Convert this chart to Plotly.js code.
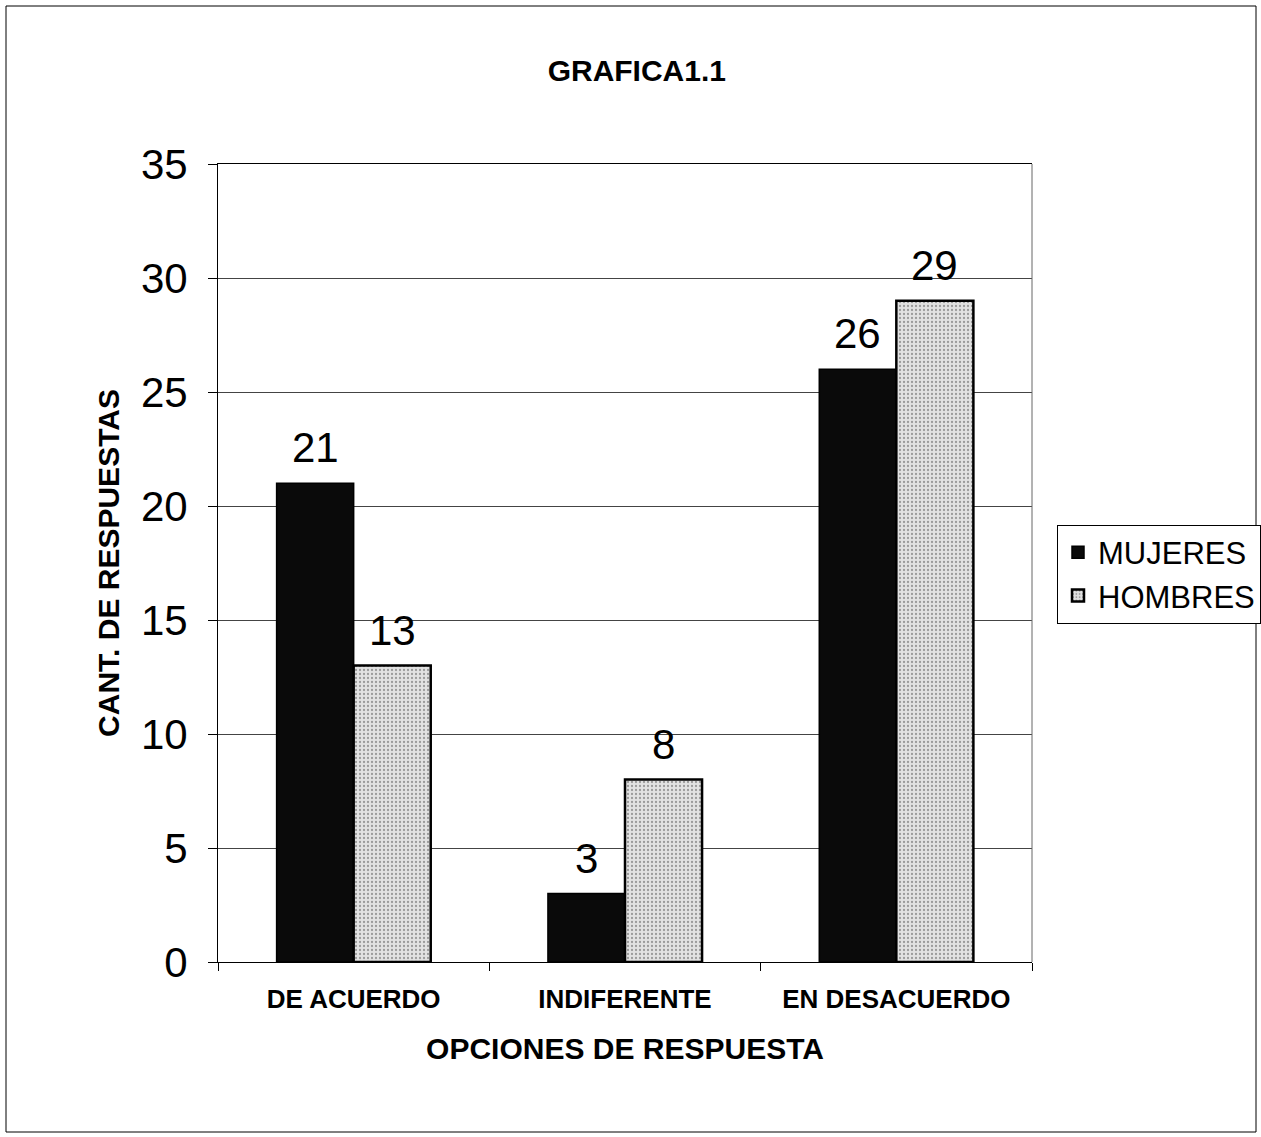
<!DOCTYPE html>
<html>
<head>
<meta charset="utf-8">
<script src="https://cdn.plot.ly/plotly-3.0.1.min.js"></script>
<style>body{margin:0;padding:0;background:#fff;} #chart{width:1261px;height:1137px;}</style>
</head>
<body>
<div id="chart"></div>
<script>
const categories = ["DE ACUERDO", "INDIFERENTE", "EN DESACUERDO"];
const mujeres = [21, 3, 26];
const hombres = [13, 8, 29];
const seriesNames = ["MUJERES", "HOMBRES"];
const yTicks = [0, 5, 10, 15, 20, 25, 30, 35];

const FONT = "Liberation Sans, Arial, sans-serif";

const traces = [
  {type: "bar", name: seriesNames[0], x: categories, y: mujeres,
   marker: {color: "#0a0a0a", line: {color: "#000", width: 1.5}}},
  {type: "bar", name: seriesNames[1], x: categories, y: hombres,
   marker: {color: "#dcdcdc", line: {color: "#000", width: 2.5},
            pattern: {shape: ".", size: 4, solidity: 0.25, fgcolor: "#9a9a9a", bgcolor: "#e2e2e2", fillmode: "replace"}}}
];

const annotations = [];
[mujeres, hombres].forEach((vals, si) => {
  vals.forEach((v, i) => {
    annotations.push({x: categories[i], y: v, xref: "x", yref: "y", text: String(v),
      showarrow: false, yanchor: "bottom", xshift: si === 0 ? -38.5 : 38.5, yshift: 10,
      font: {family: FONT, size: 42, color: "#000"}});
  });
});

const layout = {
  width: 1261, height: 1137,
  paper_bgcolor: "#fff", plot_bgcolor: "#fff",
  margin: {l: 218, r: 229, t: 164, b: 175, autoexpand: false},
  title: {text: "<b>GRAFICA1.1</b>", x: 0.505, xanchor: "center", y: 0.938, yanchor: "middle",
          font: {family: FONT, size: 30, color: "#000"}},
  barmode: "group", bargap: 0.432, bargroupgap: 0,
  showlegend: true,
  legend: {x: (1057 - 218) / 814, xanchor: "left", y: 0.486, yanchor: "middle",
           bordercolor: "#000", borderwidth: 1, bgcolor: "#fff",
           font: {family: FONT, size: 31, color: "#000"}, itemwidth: 30, tracegroupgap: 2},
  xaxis: {type: "category", tickson: "boundaries", ticks: "outside", ticklen: 8, tickcolor: "#000",
          showline: true, linecolor: "#000", linewidth: 1, mirror: true,
          tickfont: {family: FONT, size: 26, color: "#000", weight: "bold"},
          ticklabelstandoff: 14,
          title: {text: "<b>OPCIONES DE RESPUESTA</b>", standoff: 24, font: {family: FONT, size: 30, color: "#000"}}},
  yaxis: {range: [0, 35], tickvals: yTicks, ticks: "outside", ticklen: 9, tickcolor: "#000",
          showline: true, linecolor: "#000", linewidth: 1,
          showgrid: true, gridcolor: "#444", gridwidth: 1, zeroline: false,
          tickfont: {family: FONT, size: 42, color: "#000"},
          ticklabelstandoff: 12,
          title: {text: "<b>CANT. DE RESPUESTAS</b>", standoff: 12, font: {family: FONT, size: 30, color: "#000"}}},
  annotations: annotations,
  shapes: [
    {type: "rect", xref: "paper", yref: "paper",
     x0: (6 - 218) / 814, x1: (1256 - 218) / 814, y0: (962 - 1132) / 798, y1: (962 - 6) / 798,
     line: {color: "#000", width: 1}, fillcolor: "rgba(0,0,0,0)", layer: "below"},
    {type: "line", xref: "paper", yref: "paper", x0: 1, x1: 1, y0: 0, y1: 1, line: {color: "#666", width: 1}}
  ]
};

Plotly.newPlot("chart", traces, layout, {displayModeBar: false, staticPlot: true});
</script>
</body>
</html>
